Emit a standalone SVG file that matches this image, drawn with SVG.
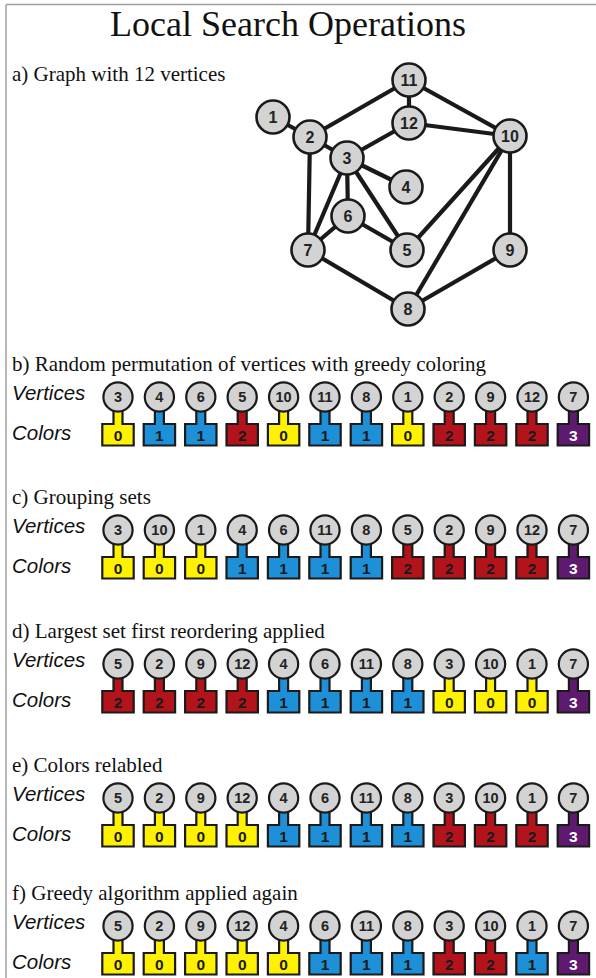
<svg xmlns="http://www.w3.org/2000/svg" xmlns:xlink="http://www.w3.org/1999/xlink" width="596" height="978" viewBox="0 0 596 978">
<style>
.frame{stroke:#a0a0a0;stroke-width:1.5;fill:none}
.ttl{font-family:"Liberation Serif","Times New Roman",serif;fill:#111}
.lbl{font-family:"Liberation Sans",Arial,sans-serif;font-style:italic;font-size:20.5px;fill:#111}
.edge{stroke:#1a1a1a;stroke-width:4.2;stroke-linecap:round}
.gn{fill:#d3d3d3;stroke:#1a1a1a;stroke-width:2.6}
.gt{font-family:"Liberation Sans",Arial,sans-serif;font-weight:bold;font-size:16px;text-anchor:middle;fill:#222}
.vc{fill:#d3d3d3;stroke:#1a1a1a;stroke-width:2.2}
.vt{font-family:"Liberation Sans",Arial,sans-serif;font-weight:bold;font-size:14.5px;text-anchor:middle;fill:#222}
.ct{font-family:"Liberation Sans",Arial,sans-serif;font-weight:bold;font-size:15.5px;text-anchor:middle;fill:#1a1a1a}
.c0{fill:#fff200}.c1{fill:#1e90d8}.c2{fill:#b3141b}.c3{fill:#5e1a6e}
.w{fill:#fff}
</style>
<defs>
<path id="stem" d="M-4.5,10 L4.5,10 L4.5,27 L15.7,27 L15.7,48.5 L-15.7,48.5 L-15.7,27 L-4.5,27 Z" stroke="#1a1a1a" stroke-width="2.2" stroke-linejoin="miter"/>
<circle id="vcirc" r="14.6" class="vc"/>
</defs>
<line class="frame" x1="6" y1="4.5" x2="596" y2="4.5"/>
<line class="frame" x1="6" y1="4.5" x2="6" y2="978"/>
<text class="ttl" x="288" y="36" font-size="36" text-anchor="middle">Local Search Operations</text>
<text class="ttl" x="12" y="81" font-size="21">a) Graph with 12 vertices</text>

<g id="edges">
<line class="edge" x1="273" y1="117" x2="310" y2="137"/>
<line class="edge" x1="310" y1="137" x2="409" y2="80"/>
<line class="edge" x1="310" y1="137" x2="347" y2="158"/>
<line class="edge" x1="310" y1="137" x2="308" y2="250"/>
<line class="edge" x1="409" y1="80" x2="409" y2="123"/>
<line class="edge" x1="409" y1="80" x2="510" y2="136"/>
<line class="edge" x1="409" y1="123" x2="510" y2="136"/>
<line class="edge" x1="409" y1="123" x2="347" y2="158"/>
<line class="edge" x1="347" y1="158" x2="406" y2="187"/>
<line class="edge" x1="347" y1="158" x2="348" y2="216"/>
<line class="edge" x1="347" y1="158" x2="308" y2="250"/>
<line class="edge" x1="347" y1="158" x2="407" y2="250"/>
<line class="edge" x1="348" y1="216" x2="308" y2="250"/>
<line class="edge" x1="348" y1="216" x2="407" y2="250"/>
<line class="edge" x1="308" y1="250" x2="408" y2="309"/>
<line class="edge" x1="510" y1="136" x2="407" y2="250"/>
<line class="edge" x1="510" y1="136" x2="408" y2="309"/>
<line class="edge" x1="510" y1="136" x2="510" y2="250"/>
<line class="edge" x1="510" y1="250" x2="408" y2="309"/>
</g>
<g id="g1"><circle class="gn" cx="273" cy="117" r="16.5"/><text class="gt" x="273" y="122.5">1</text></g>
<g id="g2"><circle class="gn" cx="310" cy="137" r="16.5"/><text class="gt" x="310" y="142.5">2</text></g>
<g id="g3"><circle class="gn" cx="347" cy="158" r="16.5"/><text class="gt" x="347" y="163.5">3</text></g>
<g id="g4"><circle class="gn" cx="406" cy="187" r="16.5"/><text class="gt" x="406" y="192.5">4</text></g>
<g id="g5"><circle class="gn" cx="407" cy="250" r="16.5"/><text class="gt" x="407" y="255.5">5</text></g>
<g id="g6"><circle class="gn" cx="348" cy="216" r="16.5"/><text class="gt" x="348" y="221.5">6</text></g>
<g id="g7"><circle class="gn" cx="308" cy="250" r="16.5"/><text class="gt" x="308" y="255.5">7</text></g>
<g id="g8"><circle class="gn" cx="408" cy="309" r="16.5"/><text class="gt" x="408" y="314.5">8</text></g>
<g id="g9"><circle class="gn" cx="510" cy="250" r="16.5"/><text class="gt" x="510" y="255.5">9</text></g>
<g id="g10"><circle class="gn" cx="510" cy="136" r="16.5"/><text class="gt" x="510" y="141.5">10</text></g>
<g id="g11"><circle class="gn" cx="409" cy="80" r="16.5"/><text class="gt" x="409" y="85.5">11</text></g>
<g id="g12"><circle class="gn" cx="409" cy="123" r="16.5"/><text class="gt" x="409" y="128.5">12</text></g>

<!-- Row b -->
<text class="ttl" x="12" y="371" font-size="21">b) Random permutation of vertices with greedy coloring</text>
<text class="lbl" x="12" y="400">Vertices</text>
<text class="lbl" x="12" y="440">Colors</text>
<g id="b1" transform="translate(118,397)"><use xlink:href="#stem" class="c0"/><use xlink:href="#vcirc"/><text class="vt" y="5">3</text><text class="ct" y="43.5">0</text></g>
<g id="b2" transform="translate(159.4,397)"><use xlink:href="#stem" class="c1"/><use xlink:href="#vcirc"/><text class="vt" y="5">4</text><text class="ct" y="43.5">1</text></g>
<g id="b3" transform="translate(200.8,397)"><use xlink:href="#stem" class="c1"/><use xlink:href="#vcirc"/><text class="vt" y="5">6</text><text class="ct" y="43.5">1</text></g>
<g id="b4" transform="translate(242.2,397)"><use xlink:href="#stem" class="c2"/><use xlink:href="#vcirc"/><text class="vt" y="5">5</text><text class="ct" y="43.5">2</text></g>
<g id="b5" transform="translate(283.6,397)"><use xlink:href="#stem" class="c0"/><use xlink:href="#vcirc"/><text class="vt" y="5">10</text><text class="ct" y="43.5">0</text></g>
<g id="b6" transform="translate(325,397)"><use xlink:href="#stem" class="c1"/><use xlink:href="#vcirc"/><text class="vt" y="5">11</text><text class="ct" y="43.5">1</text></g>
<g id="b7" transform="translate(366.4,397)"><use xlink:href="#stem" class="c1"/><use xlink:href="#vcirc"/><text class="vt" y="5">8</text><text class="ct" y="43.5">1</text></g>
<g id="b8" transform="translate(407.8,397)"><use xlink:href="#stem" class="c0"/><use xlink:href="#vcirc"/><text class="vt" y="5">1</text><text class="ct" y="43.5">0</text></g>
<g id="b9" transform="translate(449.2,397)"><use xlink:href="#stem" class="c2"/><use xlink:href="#vcirc"/><text class="vt" y="5">2</text><text class="ct" y="43.5">2</text></g>
<g id="b10" transform="translate(490.6,397)"><use xlink:href="#stem" class="c2"/><use xlink:href="#vcirc"/><text class="vt" y="5">9</text><text class="ct" y="43.5">2</text></g>
<g id="b11" transform="translate(532,397)"><use xlink:href="#stem" class="c2"/><use xlink:href="#vcirc"/><text class="vt" y="5">12</text><text class="ct" y="43.5">2</text></g>
<g id="b12" transform="translate(573.4,397)"><use xlink:href="#stem" class="c3"/><use xlink:href="#vcirc"/><text class="vt" y="5">7</text><text class="ct w" y="43.5">3</text></g>

<!-- Row c -->
<text class="ttl" x="12" y="504" font-size="21">c) Grouping sets</text>
<text class="lbl" x="12" y="533">Vertices</text>
<text class="lbl" x="12" y="573">Colors</text>
<g id="c1" transform="translate(118,530)"><use xlink:href="#stem" class="c0"/><use xlink:href="#vcirc"/><text class="vt" y="5">3</text><text class="ct" y="43.5">0</text></g>
<g id="c2" transform="translate(159.4,530)"><use xlink:href="#stem" class="c0"/><use xlink:href="#vcirc"/><text class="vt" y="5">10</text><text class="ct" y="43.5">0</text></g>
<g id="c3" transform="translate(200.8,530)"><use xlink:href="#stem" class="c0"/><use xlink:href="#vcirc"/><text class="vt" y="5">1</text><text class="ct" y="43.5">0</text></g>
<g id="c4" transform="translate(242.2,530)"><use xlink:href="#stem" class="c1"/><use xlink:href="#vcirc"/><text class="vt" y="5">4</text><text class="ct" y="43.5">1</text></g>
<g id="c5" transform="translate(283.6,530)"><use xlink:href="#stem" class="c1"/><use xlink:href="#vcirc"/><text class="vt" y="5">6</text><text class="ct" y="43.5">1</text></g>
<g id="c6" transform="translate(325,530)"><use xlink:href="#stem" class="c1"/><use xlink:href="#vcirc"/><text class="vt" y="5">11</text><text class="ct" y="43.5">1</text></g>
<g id="c7" transform="translate(366.4,530)"><use xlink:href="#stem" class="c1"/><use xlink:href="#vcirc"/><text class="vt" y="5">8</text><text class="ct" y="43.5">1</text></g>
<g id="c8" transform="translate(407.8,530)"><use xlink:href="#stem" class="c2"/><use xlink:href="#vcirc"/><text class="vt" y="5">5</text><text class="ct" y="43.5">2</text></g>
<g id="c9" transform="translate(449.2,530)"><use xlink:href="#stem" class="c2"/><use xlink:href="#vcirc"/><text class="vt" y="5">2</text><text class="ct" y="43.5">2</text></g>
<g id="c10" transform="translate(490.6,530)"><use xlink:href="#stem" class="c2"/><use xlink:href="#vcirc"/><text class="vt" y="5">9</text><text class="ct" y="43.5">2</text></g>
<g id="c11" transform="translate(532,530)"><use xlink:href="#stem" class="c2"/><use xlink:href="#vcirc"/><text class="vt" y="5">12</text><text class="ct" y="43.5">2</text></g>
<g id="c12" transform="translate(573.4,530)"><use xlink:href="#stem" class="c3"/><use xlink:href="#vcirc"/><text class="vt" y="5">7</text><text class="ct w" y="43.5">3</text></g>

<!-- Row d -->
<text class="ttl" x="12" y="638" font-size="21">d) Largest set first reordering applied</text>
<text class="lbl" x="12" y="667">Vertices</text>
<text class="lbl" x="12" y="707">Colors</text>
<g id="d1" transform="translate(118,664)"><use xlink:href="#stem" class="c2"/><use xlink:href="#vcirc"/><text class="vt" y="5">5</text><text class="ct" y="43.5">2</text></g>
<g id="d2" transform="translate(159.4,664)"><use xlink:href="#stem" class="c2"/><use xlink:href="#vcirc"/><text class="vt" y="5">2</text><text class="ct" y="43.5">2</text></g>
<g id="d3" transform="translate(200.8,664)"><use xlink:href="#stem" class="c2"/><use xlink:href="#vcirc"/><text class="vt" y="5">9</text><text class="ct" y="43.5">2</text></g>
<g id="d4" transform="translate(242.2,664)"><use xlink:href="#stem" class="c2"/><use xlink:href="#vcirc"/><text class="vt" y="5">12</text><text class="ct" y="43.5">2</text></g>
<g id="d5" transform="translate(283.6,664)"><use xlink:href="#stem" class="c1"/><use xlink:href="#vcirc"/><text class="vt" y="5">4</text><text class="ct" y="43.5">1</text></g>
<g id="d6" transform="translate(325,664)"><use xlink:href="#stem" class="c1"/><use xlink:href="#vcirc"/><text class="vt" y="5">6</text><text class="ct" y="43.5">1</text></g>
<g id="d7" transform="translate(366.4,664)"><use xlink:href="#stem" class="c1"/><use xlink:href="#vcirc"/><text class="vt" y="5">11</text><text class="ct" y="43.5">1</text></g>
<g id="d8" transform="translate(407.8,664)"><use xlink:href="#stem" class="c1"/><use xlink:href="#vcirc"/><text class="vt" y="5">8</text><text class="ct" y="43.5">1</text></g>
<g id="d9" transform="translate(449.2,664)"><use xlink:href="#stem" class="c0"/><use xlink:href="#vcirc"/><text class="vt" y="5">3</text><text class="ct" y="43.5">0</text></g>
<g id="d10" transform="translate(490.6,664)"><use xlink:href="#stem" class="c0"/><use xlink:href="#vcirc"/><text class="vt" y="5">10</text><text class="ct" y="43.5">0</text></g>
<g id="d11" transform="translate(532,664)"><use xlink:href="#stem" class="c0"/><use xlink:href="#vcirc"/><text class="vt" y="5">1</text><text class="ct" y="43.5">0</text></g>
<g id="d12" transform="translate(573.4,664)"><use xlink:href="#stem" class="c3"/><use xlink:href="#vcirc"/><text class="vt" y="5">7</text><text class="ct w" y="43.5">3</text></g>

<!-- Row e -->
<text class="ttl" x="12" y="772" font-size="21">e) Colors relabled</text>
<text class="lbl" x="12" y="801">Vertices</text>
<text class="lbl" x="12" y="841">Colors</text>
<g id="e1" transform="translate(118,798)"><use xlink:href="#stem" class="c0"/><use xlink:href="#vcirc"/><text class="vt" y="5">5</text><text class="ct" y="43.5">0</text></g>
<g id="e2" transform="translate(159.4,798)"><use xlink:href="#stem" class="c0"/><use xlink:href="#vcirc"/><text class="vt" y="5">2</text><text class="ct" y="43.5">0</text></g>
<g id="e3" transform="translate(200.8,798)"><use xlink:href="#stem" class="c0"/><use xlink:href="#vcirc"/><text class="vt" y="5">9</text><text class="ct" y="43.5">0</text></g>
<g id="e4" transform="translate(242.2,798)"><use xlink:href="#stem" class="c0"/><use xlink:href="#vcirc"/><text class="vt" y="5">12</text><text class="ct" y="43.5">0</text></g>
<g id="e5" transform="translate(283.6,798)"><use xlink:href="#stem" class="c1"/><use xlink:href="#vcirc"/><text class="vt" y="5">4</text><text class="ct" y="43.5">1</text></g>
<g id="e6" transform="translate(325,798)"><use xlink:href="#stem" class="c1"/><use xlink:href="#vcirc"/><text class="vt" y="5">6</text><text class="ct" y="43.5">1</text></g>
<g id="e7" transform="translate(366.4,798)"><use xlink:href="#stem" class="c1"/><use xlink:href="#vcirc"/><text class="vt" y="5">11</text><text class="ct" y="43.5">1</text></g>
<g id="e8" transform="translate(407.8,798)"><use xlink:href="#stem" class="c1"/><use xlink:href="#vcirc"/><text class="vt" y="5">8</text><text class="ct" y="43.5">1</text></g>
<g id="e9" transform="translate(449.2,798)"><use xlink:href="#stem" class="c2"/><use xlink:href="#vcirc"/><text class="vt" y="5">3</text><text class="ct" y="43.5">2</text></g>
<g id="e10" transform="translate(490.6,798)"><use xlink:href="#stem" class="c2"/><use xlink:href="#vcirc"/><text class="vt" y="5">10</text><text class="ct" y="43.5">2</text></g>
<g id="e11" transform="translate(532,798)"><use xlink:href="#stem" class="c2"/><use xlink:href="#vcirc"/><text class="vt" y="5">1</text><text class="ct" y="43.5">2</text></g>
<g id="e12" transform="translate(573.4,798)"><use xlink:href="#stem" class="c3"/><use xlink:href="#vcirc"/><text class="vt" y="5">7</text><text class="ct w" y="43.5">3</text></g>

<!-- Row f -->
<text class="ttl" x="12" y="900" font-size="21">f) Greedy algorithm applied again</text>
<text class="lbl" x="12" y="929">Vertices</text>
<text class="lbl" x="12" y="969">Colors</text>
<g id="f1" transform="translate(118,926)"><use xlink:href="#stem" class="c0"/><use xlink:href="#vcirc"/><text class="vt" y="5">5</text><text class="ct" y="43.5">0</text></g>
<g id="f2" transform="translate(159.4,926)"><use xlink:href="#stem" class="c0"/><use xlink:href="#vcirc"/><text class="vt" y="5">2</text><text class="ct" y="43.5">0</text></g>
<g id="f3" transform="translate(200.8,926)"><use xlink:href="#stem" class="c0"/><use xlink:href="#vcirc"/><text class="vt" y="5">9</text><text class="ct" y="43.5">0</text></g>
<g id="f4" transform="translate(242.2,926)"><use xlink:href="#stem" class="c0"/><use xlink:href="#vcirc"/><text class="vt" y="5">12</text><text class="ct" y="43.5">0</text></g>
<g id="f5" transform="translate(283.6,926)"><use xlink:href="#stem" class="c0"/><use xlink:href="#vcirc"/><text class="vt" y="5">4</text><text class="ct" y="43.5">0</text></g>
<g id="f6" transform="translate(325,926)"><use xlink:href="#stem" class="c1"/><use xlink:href="#vcirc"/><text class="vt" y="5">6</text><text class="ct" y="43.5">1</text></g>
<g id="f7" transform="translate(366.4,926)"><use xlink:href="#stem" class="c1"/><use xlink:href="#vcirc"/><text class="vt" y="5">11</text><text class="ct" y="43.5">1</text></g>
<g id="f8" transform="translate(407.8,926)"><use xlink:href="#stem" class="c1"/><use xlink:href="#vcirc"/><text class="vt" y="5">8</text><text class="ct" y="43.5">1</text></g>
<g id="f9" transform="translate(449.2,926)"><use xlink:href="#stem" class="c2"/><use xlink:href="#vcirc"/><text class="vt" y="5">3</text><text class="ct" y="43.5">2</text></g>
<g id="f10" transform="translate(490.6,926)"><use xlink:href="#stem" class="c2"/><use xlink:href="#vcirc"/><text class="vt" y="5">10</text><text class="ct" y="43.5">2</text></g>
<g id="f11" transform="translate(532,926)"><use xlink:href="#stem" class="c1"/><use xlink:href="#vcirc"/><text class="vt" y="5">1</text><text class="ct" y="43.5">1</text></g>
<g id="f12" transform="translate(573.4,926)"><use xlink:href="#stem" class="c3"/><use xlink:href="#vcirc"/><text class="vt" y="5">7</text><text class="ct w" y="43.5">3</text></g>
</svg>
